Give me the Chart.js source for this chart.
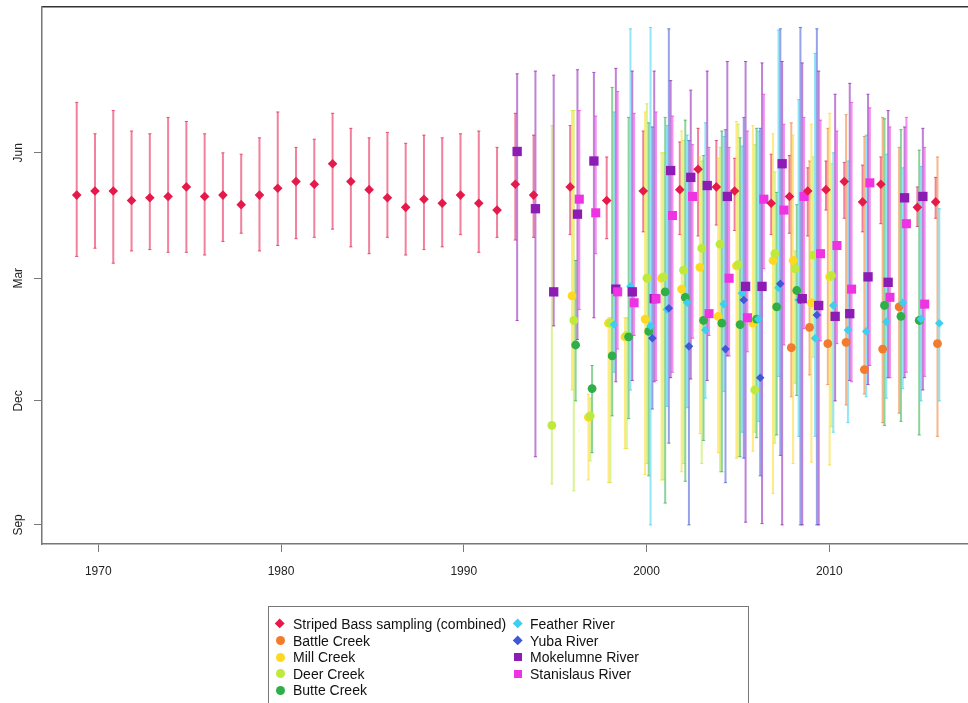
<!DOCTYPE html>
<html>
<head>
  <title>Spawning timing by year</title>
  <script src="https://cdn.jsdelivr.net/npm/chart.js"></script>
  <style>
    body {
      margin: 0;
      background: #fff;
      font-family: "Liberation Sans", Arial, sans-serif;
      overflow: hidden;
    }
    #wrap { position: relative; width: 968px; height: 703px; }
    #chart { position: absolute; left: 0; top: 0; }
    #legend {
      position: absolute;
      left: 268px;
      top: 606px;
      width: 479px;
      height: 110px;
      border: 1px solid #777;
    }
    .item {
      position: absolute;
      font-size: 14px;
      line-height: 16px;
      color: #111;
      white-space: nowrap;
    }
    .mark { position: absolute; }
  </style>
</head>
<body>
<div id="wrap">
  <canvas id="chart" width="968" height="703"></canvas>
  <div id="legend"></div>
</div>

<script>
  // y values are days since 1 Sep
  const monthTicks = [0, 91, 181, 273];
  const monthLabels = ["Sep", "Dec", "Mar", "Jun"];
  const yearTicks = [1970, 1980, 1990, 2000, 2010];

  const bassYears = [1969, 1970, 1971, 1972, 1973, 1974, 1975, 1976, 1977, 1978, 1979, 1980,
    1981, 1982, 1983, 1984, 1985, 1986, 1987, 1988, 1989, 1990, 1991, 1992,
    1993, 1994, 1996, 1998, 2000, 2002, 2003, 2004, 2005, 2007, 2008, 2009, 2010, 2011, 2012, 2013, 2015, 2016];
  const bassMean = [242, 245, 245, 238, 240, 241, 248, 241, 242, 235, 242, 247,
    252, 250, 265, 252, 246, 240, 233, 239, 236, 242, 236, 231,
    250, 242, 248, 238, 245, 246, 261, 248, 245, 236, 241, 245, 246, 252, 237, 250, 233, 237];
  const bassLow = [197, 203, 192, 201, 202, 200, 200, 198, 208, 214, 201, 205,
    210, 211, 217, 204, 199, 211, 198, 202, 204, 213, 200, 211,
    209, 211, 213, 210, 215, 213, 212, 220, 216, 213, 214, 212, 231, 225, 215, 221, 219, 225];
  const bassHigh = [310, 287, 304, 289, 287, 299, 296, 287, 273, 272, 284, 303,
    277, 283, 302, 291, 284, 288, 280, 286, 284, 287, 289, 277,
    302, 286, 293, 270, 289, 281, 291, 282, 269, 272, 271, 262, 267, 266, 264, 270, 248, 255];

  const battleYears = [2008, 2009, 2010, 2011, 2012, 2013, 2014, 2016];
  const battleMean = [130, 145, 133, 134, 114, 129, 160, 133];
  const battleLow = [94, 110, 103, 88, 96, 75, 82, 65];
  const battleHigh = [295, 267, 291, 301, 285, 299, 277, 270];

  const millYears = [1996, 1997, 1998, 1999, 2000, 2001, 2002, 2003, 2004, 2005, 2006, 2007, 2008, 2009, 2010];
  const millMean = [168, 79, 148, 138, 151, 181, 173, 189, 153, 190, 148, 194, 194, 163, 182];
  const millLow = [99, 33, 31, 56, 37, 33, 39, 67, 53, 49, 54, 23, 45, 46, 44];
  const millHigh = [304, 96, 152, 152, 303, 273, 289, 270, 269, 296, 293, 287, 286, 294, 302];

  const deerYears = [1995, 1996, 1997, 1998, 1999, 2000, 2001, 2002, 2003, 2004, 2005, 2006, 2007, 2008, 2009, 2010];
  const deerMean = [73, 150, 80, 148, 139, 181, 182, 187, 203, 206, 191, 99, 199, 188, 198, 183];
  const deerLow = [30, 25, 47, 31, 56, 45, 33, 45, 45, 39, 50, 68, 60, 104, 123, 72];
  const deerHigh = [293, 304, 93, 152, 152, 309, 273, 282, 267, 277, 294, 279, 259, 201, 270, 265];

  const butteYears = [1996, 1997, 1998, 1999, 2000, 2001, 2002, 2003, 2004, 2005, 2006, 2007, 2008, 2013, 2014, 2015];
  const butteMean = [132, 100, 124, 138, 142, 171, 167, 150, 148, 147, 151, 160, 172, 161, 153, 150];
  const butteLow = [91, 53, 80, 78, 36, 16, 32, 62, 39, 50, 64, 66, 95, 73, 76, 66];
  const butteHigh = [194, 117, 321, 299, 295, 299, 297, 271, 289, 284, 291, 244, 235, 298, 290, 275];

  const featherYears = [1998, 1999, 2000, 2001, 2002, 2003, 2004, 2005, 2006, 2007, 2008, 2009, 2010, 2011, 2012, 2013, 2014, 2015, 2016];
  const featherMean = [147, 175, 146, 158, 163, 143, 162, 170, 151, 174, 165, 137, 161, 143, 142, 149, 163, 151, 148];
  const featherLow = [112, 99, 0, 87, 86, 93, 98, 68, 76, 109, 65, 65, 68, 75, 94, 93, 100, 91, 91];
  const featherHigh = [303, 364, 365, 293, 286, 295, 285, 278, 289, 363, 312, 346, 273, 267, 286, 272, 262, 263, 232];

  const yubaYears = [2000, 2001, 2002, 2004, 2005, 2006, 2007, 2008, 2009];
  const yubaMean = [137, 159, 131, 129, 165, 108, 177, 165, 154];
  const yubaLow = [85, 60, 0, 31, 49, 36, 51, 0, 0];
  const yubaHigh = [292, 364, 282, 290, 299, 291, 364, 365, 364];

  const mokeYears = [1993, 1994, 1995, 1996, 1997, 1998, 1999, 2000, 2001, 2002, 2003, 2004,
    2005, 2006, 2007, 2008, 2009, 2010, 2011, 2012, 2013, 2014, 2015];
  const mokeMean = [274, 232, 171, 228, 267, 173, 171, 166, 260, 255, 249, 241,
    175, 175, 265, 166, 161, 153, 155, 182, 178, 240, 241];
  const mokeLow = [150, 50, 146, 136, 152, 105, 106, 105, 108, 107, 106, 124,
    2, 1, 0, 0, 0, 91, 106, 103, 108, 108, 99];
  const mokeHigh = [331, 333, 330, 334, 332, 335, 333, 333, 326, 319, 333, 340,
    340, 339, 340, 339, 333, 316, 324, 316, 304, 292, 291];

  const stanYears = [1996, 1997, 1998, 1999, 2000, 2001, 2002, 2003, 2004, 2005,
    2006, 2007, 2008, 2009, 2010, 2011, 2012, 2013, 2014, 2015];
  const stanMean = [239, 229, 171, 163, 166, 227, 241, 155, 181, 152,
    239, 231, 241, 199, 205, 173, 251, 167, 221, 162];
  const stanLow = [158, 199, 129, 139, 106, 112, 137, 139, 124, 127,
    188, 132, 144, 135, 133, 105, 117, 108, 112, 109];
  const stanHigh = [304, 300, 318, 302, 303, 300, 279, 277, 277, 289,
    316, 294, 299, 297, 289, 310, 306, 292, 299, 277];

  const series = [
    { name: "Striped Bass sampling (combined)", color: "#E6194B", shape: "rectRot", size: 4.8, years: bassYears, mean: bassMean, low: bassLow, high: bassHigh },
    { name: "Battle Creek", color: "#F27B2C", shape: "circle", size: 4.4, years: battleYears, mean: battleMean, low: battleLow, high: battleHigh },
    { name: "Mill Creek", color: "#FFD91F", shape: "circle", size: 4.4, years: millYears, mean: millMean, low: millLow, high: millHigh },
    { name: "Deer Creek", color: "#BFEA3C", shape: "circle", size: 4.4, years: deerYears, mean: deerMean, low: deerLow, high: deerHigh },
    { name: "Butte Creek", color: "#2FAE4A", shape: "circle", size: 4.4, years: butteYears, mean: butteMean, low: butteLow, high: butteHigh },
    { name: "Feather River", color: "#3CCFF0", shape: "rectRot", size: 4.3, years: featherYears, mean: featherMean, low: featherLow, high: featherHigh },
    { name: "Yuba River", color: "#4058D6", shape: "rectRot", size: 4.3, years: yubaYears, mean: yubaMean, low: yubaLow, high: yubaHigh },
    { name: "Mokelumne River", color: "#8C1CB4", shape: "rect", size: 6.6, years: mokeYears, mean: mokeMean, low: mokeLow, high: mokeHigh },
    { name: "Stanislaus River", color: "#EE33E2", shape: "rect", size: 6.4, years: stanYears, mean: stanMean, low: stanLow, high: stanHigh }
  ];

  function rgba(hex, a) {
    const n = parseInt(hex.slice(1), 16);
    return `rgba(${(n >> 16) & 255},${(n >> 8) & 255},${n & 255},${a})`;
  }

  // side-by-side dodge: each series present in a year gets the next slot
  function xPos(si, year) {
    let k = 0;
    for (let j = 0; j < si; j++) {
      if (series[j].years.includes(year)) k++;
    }
    return year - 0.18 + 0.1 * k;
  }

  const barSets = series.map((s, si) => {
    const pts = [];
    s.years.forEach((yr, i) => {
      const x = xPos(si, yr);
      pts.push({ x: x, y: s.low[i] }, { x: x, y: s.high[i] }, { x: x, y: null });
    });
    return {
      type: "line",
      data: pts,
      spanGaps: false,
      borderColor: rgba(s.color, 0.55),
      borderWidth: 2,
      pointStyle: "line",
      pointRadius: 1.6,
      pointBorderWidth: 1,
      pointBorderColor: rgba(s.color, 0.7),
      order: 100 - si
    };
  });

  const markSets = series.map((s, si) => ({
    type: "scatter",
    data: s.years.map((yr, i) => ({ x: xPos(si, yr), y: s.mean[i] })),
    pointStyle: s.shape,
    pointRadius: s.size,
    backgroundColor: s.color,
    borderWidth: 0,
    order: si === 0 ? 0 : 50 - si
  }));

  const font = { family: "'Liberation Sans', Arial, sans-serif", size: 12 };

  new Chart(document.getElementById("chart"), {
    type: "scatter",
    data: { datasets: markSets.concat(barSets) },
    options: {
      responsive: false,
      animation: false,
      devicePixelRatio: 1,
      layout: { autoPadding: false, padding: { top: 7, right: 0, bottom: 0, left: 0 } },
      plugins: { legend: { display: false }, tooltip: { enabled: false } },
      scales: {
        x: {
          type: "linear",
          position: "bottom",
          min: 1966.92,
          max: 2017.59,
          afterBuildTicks: sc => { sc.ticks = yearTicks.map(v => ({ value: v })); },
          afterFit: sc => { sc.height = 159; sc.paddingLeft = 0; sc.paddingRight = 0; },
          ticks: { callback: v => String(v), font: font, color: "#222", padding: 12, maxRotation: 0, autoSkip: false },
          grid: { display: true, drawOnChartArea: false, drawTicks: true, tickLength: 8, color: "#777", lineWidth: 1 },
          border: { display: true, color: "#777", width: 1.5 }
        },
        xTop: {
          type: "linear",
          axis: "x",
          position: "top",
          min: 0,
          max: 1,
          afterFit: sc => { sc.height = 0; sc.paddingLeft = 0; sc.paddingRight = 0; },
          ticks: { display: false },
          grid: { display: false },
          border: { display: true, color: "#333", width: 1.5 }
        },
        y: {
          type: "linear",
          min: -14,
          max: 380,
          afterBuildTicks: sc => { sc.ticks = monthTicks.map(v => ({ value: v })); },
          afterFit: sc => { sc.width = 42; sc.paddingTop = 0; sc.paddingBottom = 0; },
          ticks: {
            callback: v => monthLabels[monthTicks.indexOf(v)],
            minRotation: 90,
            maxRotation: 90,
            crossAlign: "center",
            padding: 5,
            font: font,
            color: "#222",
            autoSkip: false
          },
          grid: { display: true, drawOnChartArea: false, drawTicks: true, tickLength: 8, color: "#777", lineWidth: 1 },
          border: { display: true, color: "#777", width: 1.5 }
        }
      }
    }
  });

  // legend: two columns, first five entries on the left
  const legend = document.getElementById("wrap");
  series.forEach((s, i) => {
    const col = i < 5 ? 0 : 1;
    const row = i < 5 ? i : i - 5;
    const cy = 624 + row * 16.6;
    const mx = col ? 518 : 280;
    const tx = col ? 530 : 293;

    const m = document.createElement("div");
    m.className = "mark";
    let w = 9;
    if (s.shape === "rectRot") {
      w = 7.4;
      m.style.transform = "rotate(45deg)";
    } else if (s.shape === "rect") {
      w = 8.5;
    } else {
      m.style.borderRadius = "50%";
    }
    m.style.width = w + "px";
    m.style.height = w + "px";
    m.style.left = (mx - w / 2) + "px";
    m.style.top = (cy - w / 2) + "px";
    m.style.background = s.color;
    legend.appendChild(m);

    const t = document.createElement("div");
    t.className = "item";
    t.textContent = s.name;
    t.style.left = tx + "px";
    t.style.top = (cy - 8) + "px";
    legend.appendChild(t);
  });
</script>
</body>
</html>
